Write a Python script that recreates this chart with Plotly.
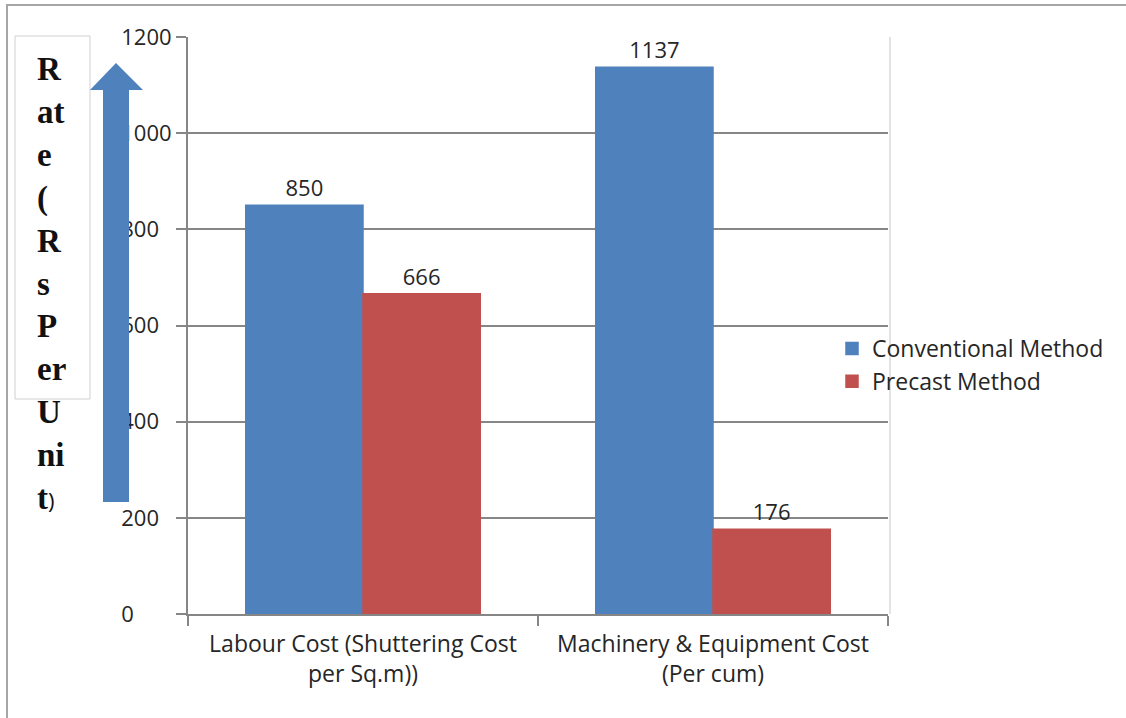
import plotly.graph_objects as go

categories = ["Labour Cost (Shuttering Cost<br>per Sq.m))", "Machinery & Equipment Cost<br>(Per cum)"]
conventional = [850, 1137]
precast = [666, 176]
y_ticks = [0, 200, 400, 600, 800, 1000, 1200]
y_ticktext = [str(v) + "\u2007" * (4 - len(str(v))) for v in y_ticks]
axis_label_lines = ["R", "at", "e", "(", "R", "s", "P", "er", "U", "ni", "t"]

W, H = 1126, 718
L, R, T, B = 188, 238, 37, 104
PW, PH = W - L - R, H - T - B

def px(x):
    return (x - L) / PW

def py(y):
    return (H - B - y) / PH

TXT = "#262626"
GRID = "#868686"
FONT = "Open Sans"

fig = go.Figure()
fig.add_trace(go.Bar(name="Conventional Method", x=categories, y=conventional,
                     marker=dict(color="#4F81BD", line=dict(color="#4F81BD", width=1.5)),
                     text=conventional, textposition="outside", cliponaxis=False,
                     textfont=dict(family=FONT, size=22, color=TXT)))
fig.add_trace(go.Bar(name="Precast Method", x=categories, y=precast,
                     marker=dict(color="#C0504D", line=dict(color="#C0504D", width=1.5)),
                     text=precast, textposition="outside", cliponaxis=False,
                     textfont=dict(family=FONT, size=22, color=TXT)))

# arrow path
pts = [(103, 502), (103, 90), (90, 90), (116, 63), (143, 90), (129, 90), (129, 502)]
path = "M " + " L ".join(f"{px(a):.5f},{py(b):.5f}" for a, b in pts) + " Z"

# outer border
border = f"M {px(7):.5f},{py(720):.5f} L {px(7):.5f},{py(5):.5f} L {px(1130):.5f},{py(5):.5f}"

shapes = [
    dict(type="path", path=border, xref="paper", yref="paper",
         line=dict(color="#a6a6a6", width=2), layer="above"),
    dict(type="line", xref="paper", yref="paper", x0=px(890), x1=px(890), y0=py(614), y1=py(37),
         line=dict(color="#e3e3e3", width=2), layer="below"),
    dict(type="rect", xref="paper", yref="paper", x0=px(15), x1=px(90), y0=py(399), y1=py(36),
         line=dict(color="#d0d0d0", width=1), fillcolor="white", layer="above"),
    dict(type="path", path=path, xref="paper", yref="paper",
         line=dict(width=0), fillcolor="#4F81BD", layer="above"),
]

label_text = "<br>".join(f"<b>{s}</b>" for s in axis_label_lines[:-1]) + \
    f"<br><b>{axis_label_lines[-1]}</b><span style='font-family:Open Sans;font-size:22px;font-weight:normal'>)</span>"

fig.update_layout(
    width=W, height=H,
    margin=dict(l=L, r=R, t=T, b=B, pad=0),
    paper_bgcolor="white", plot_bgcolor="white",
    barmode="group", bargap=0.33, bargroupgap=0,
    shapes=shapes,
    annotations=[dict(text=label_text, xref="paper", yref="paper", x=px(35), y=py(283),
                      xanchor="left", yanchor="middle", align="left", showarrow=False,
                      font=dict(family="Liberation Serif", size=33, color="#111111"))],
    legend=dict(x=px(832), y=py(365), xanchor="left", yanchor="middle",
                font=dict(family=FONT, size=23, color=TXT), bgcolor="rgba(0,0,0,0)",
                tracegroupgap=0),
    xaxis=dict(showline=True, linecolor=GRID, linewidth=2, ticks="outside", ticklen=10,
               tickcolor=GRID, tickwidth=2, tickson="boundaries", showgrid=False,
               ticklabelstandoff=8,
               tickfont=dict(family=FONT, size=23, color=TXT)),
    yaxis=dict(range=[0, 1200], tickvals=y_ticks, ticktext=y_ticktext,
               showline=True, linecolor=GRID, linewidth=2, ticks="outside", ticklen=10,
               tickcolor=GRID, tickwidth=2, showgrid=True, gridcolor=GRID, gridwidth=2,
               zeroline=False, tickfont=dict(family=FONT, size=22, color=TXT)),
)

fig.write_html("out.html")
